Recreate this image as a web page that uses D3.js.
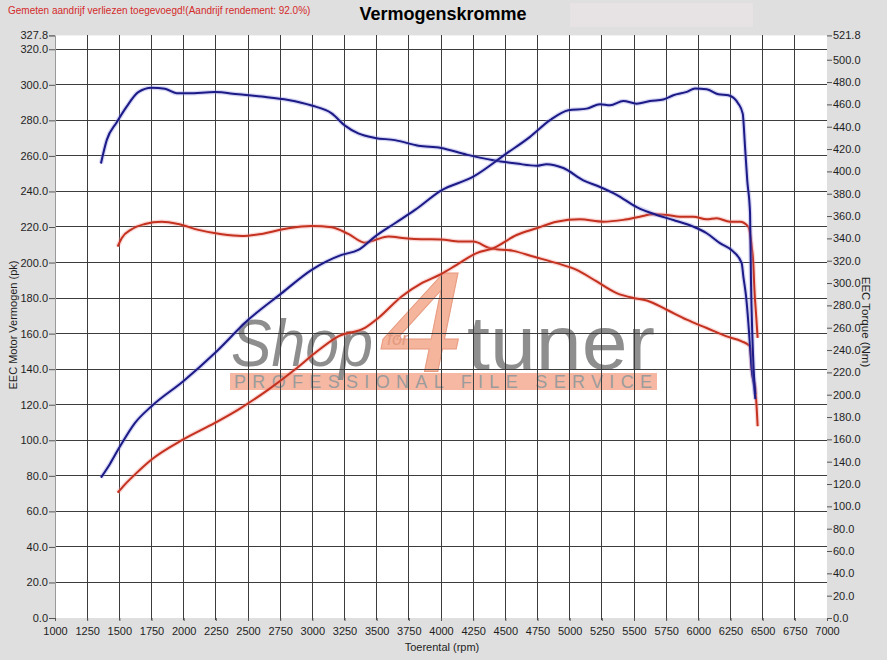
<!DOCTYPE html>
<html>
<head>
<meta charset="utf-8">
<script src="https://cdn.jsdelivr.net/npm/d3@7"></script>
<style>
body { margin: 0; background: #dfdfdf; }
svg { display: block; }
text { font-family: Arial, "Liberation Sans", sans-serif; }
</style>
</head>
<body>
<div id="chart"></div>
<script>
// Chart texts
var title = "Vermogenskromme";
var note = "Gemeten aandrijf verliezen toegevoegd!(Aandrijf rendement: 92.0%)";
var xTitle = "Toerental (rpm)";
var yLeftTitle = "EEC Motor Vermogen (pk)";
var yRightTitle = "EEC Torque (Nm)";

// Axis ticks
var rpmTicks = d3.range(1000, 7001, 250);
var pkTicks = d3.range(0, 321, 20).concat([327.8]);
var nmTicks = d3.range(0, 501, 20).concat([521.8]);

// Blue power (pk)
var bluePowerRpm = [1357, 1427, 1492, 1622, 1751, 1997, 2243, 2502, 2762, 2995, 3228, 3357, 3487, 3642, 3798, 4000, 4251, 4510, 4692, 4847, 4990, 5132, 5236, 5314, 5417, 5521, 5624, 5728, 5806, 5910, 5974, 6065, 6155, 6233, 6311, 6345, 6363, 6380, 6402, 6409, 6420, 6430, 6442];
var bluePower = [79.0, 86.7, 94.9, 109.8, 119.2, 133.2, 149.1, 167.8, 182.8, 195.9, 204.3, 207.1, 214.6, 222.1, 229.6, 240.5, 248.3, 261.4, 270.7, 280.1, 285.7, 286.6, 289.1, 288.5, 290.9, 289.4, 290.9, 291.7, 294.1, 296.0, 297.9, 297.5, 294.7, 294.1, 289.4, 283.8, 265.1, 246.4, 227.7, 190.3, 158.5, 140.0, 126.0];

// Blue torque (Nm)
var blueTorqueRpm = [1357, 1402, 1480, 1557, 1647, 1751, 1855, 1946, 2036, 2243, 2425, 2606, 2813, 2995, 3150, 3254, 3357, 3487, 3642, 3824, 4000, 4200, 4407, 4588, 4744, 4821, 4951, 5106, 5236, 5365, 5521, 5676, 5806, 5961, 6065, 6168, 6272, 6337, 6350, 6371, 6389, 6402, 6415, 6433, 6443];
var blueTorque = [407, 428, 444, 458, 471, 475, 474, 470, 470, 471, 469, 467, 464, 459, 452, 441, 434, 430, 428, 423, 421, 415, 410, 407, 405, 406.5, 403, 392, 386, 379, 368, 361, 356.5, 350.5, 344.6, 335.7, 328.2, 317.8, 305.8, 288, 264, 243, 222.5, 207.6, 196];

// Red power (pk)
var redPowerRpm = [1487, 1544, 1622, 1751, 1997, 2243, 2425, 2658, 2865, 3021, 3202, 3409, 3513, 3694, 3850, 4000, 4122, 4277, 4407, 4588, 4744, 4899, 5080, 5261, 5417, 5546, 5650, 5754, 5857, 5961, 6065, 6143, 6246, 6324, 6388, 6415, 6427, 6436, 6448, 6461];
var redPower = [70.5, 75.2, 80.8, 89.2, 100.5, 109.8, 117.3, 128.5, 139.8, 149.1, 158.5, 163.2, 168.8, 180.9, 188.4, 193.5, 198.7, 205.3, 208.1, 215.5, 219.3, 223.0, 224.3, 223.0, 224.0, 225.8, 227.1, 226.8, 225.8, 225.8, 224.3, 224.9, 223.0, 223.0, 220.2, 209.0, 199.7, 184.7, 171.6, 157.6];

// Red torque (Nm)
var redTorqueRpm = [1487, 1518, 1596, 1699, 1829, 1958, 2114, 2296, 2451, 2606, 2813, 2995, 3150, 3280, 3409, 3487, 3591, 3720, 3850, 4000, 4148, 4251, 4381, 4562, 4717, 4899, 5054, 5210, 5365, 5495, 5599, 5754, 5910, 6065, 6220, 6337, 6402, 6415, 6427, 6441, 6461];
var redTorque = [332.6, 340.2, 348.2, 352.9, 355.0, 352.9, 347.6, 343.7, 342.2, 344.0, 349.1, 351.1, 350.0, 344.0, 336.2, 338.6, 341.6, 340.2, 339.3, 339.0, 337.1, 337.1, 331.2, 328.8, 323.7, 317.8, 311.8, 301.4, 291.0, 286.6, 284.4, 276.1, 267.2, 259.7, 252.2, 247.8, 243.3, 222.5, 213.5, 207.6, 171.8];

var width = 887, height = 660;
var plot = {left: 55, right: 827, top: 35.4, bottom: 618};

var svg = d3.select("#chart")
            .append("svg")
            .attr("width", width)
            .attr("height", height);

svg.append("rect")
   .attr("width", width)
   .attr("height", height)
   .attr("fill", "#dfdfdf");

// Scales
var x = d3.scaleLinear().domain([1000, 7000]).range([plot.left, plot.right]);
var yL = d3.scaleLinear().domain([0, 327.8]).range([plot.bottom, plot.top]);
var yR = d3.scaleLinear().domain([0, 521.8]).range([plot.bottom, plot.top]);

// Header
svg.append("text")
   .attr("x", 8).attr("y", 14)
   .attr("font-size", 10)
   .attr("fill", "#d42a2a")
   .text(note);

svg.append("rect")
   .attr("x", 570).attr("y", 3)
   .attr("width", 183).attr("height", 24)
   .attr("fill", "#e7e3e5");

svg.append("text")
   .attr("x", 443).attr("y", 20)
   .attr("text-anchor", "middle")
   .attr("font-size", 18)
   .attr("font-weight", "bold")
   .attr("fill", "#000")
   .text(title);

// Plot area
svg.append("rect")
   .attr("x", plot.left).attr("y", plot.top)
   .attr("width", plot.right - plot.left)
   .attr("height", plot.bottom - plot.top)
   .attr("fill", "white");

// Watermark (under the grid)
var wm = svg.append("g").attr("class", "watermark");
wm.append("rect")
  .attr("x", 230).attr("y", 373)
  .attr("width", 427).attr("height", 17)
  .attr("fill", "#f6b8a3");
wm.append("text")
  .attr("x", 234).attr("y", 388)
  .attr("font-size", 18)
  .attr("fill", "#9b9b9b")
  .attr("textLength", 418)
  .attr("lengthAdjust", "spacing")
  .text("PROFESSIONAL FILE SERVICE");
wm.append("text")
  .attr("x", 231).attr("y", 366)
  .attr("font-size", 66)
  .attr("font-style", "italic")
  .attr("fill", "#8e8e8e")
  .attr("textLength", 142)
  .attr("lengthAdjust", "spacingAndGlyphs")
  .text("Shop");
wm.append("text")
  .attr("x", 380).attr("y", 371)
  .attr("font-size", 142)
  .attr("font-style", "italic")
  .attr("fill", "#f5b59d")
  .attr("stroke", "#e79b80")
  .attr("stroke-width", 1)
  .attr("textLength", 84)
  .attr("lengthAdjust", "spacingAndGlyphs")
  .text("4");
wm.append("text")
  .attr("x", 387).attr("y", 345)
  .attr("font-size", 18)
  .attr("font-style", "italic")
  .attr("fill", "#e39a80")
  .text("for");
wm.append("text")
  .attr("x", 467).attr("y", 369)
  .attr("font-size", 76)
  .attr("fill", "#8e8e8e")
  .attr("textLength", 188)
  .attr("lengthAdjust", "spacingAndGlyphs")
  .text("tuner");

// Grid
var grid = svg.append("g")
              .attr("stroke", "#3c3c3c")
              .attr("stroke-width", 1)
              .attr("shape-rendering", "crispEdges");

grid.selectAll("line.v")
    .data(rpmTicks.filter(function(d) { return d > 1000 && d < 7000; }))
    .enter().append("line")
    .attr("x1", d => x(d)).attr("x2", d => x(d))
    .attr("y1", plot.top).attr("y2", plot.bottom + 2);

grid.selectAll("line.h")
    .data(pkTicks.filter(function(d) { return d > 0 && d < 321; }))
    .enter().append("line")
    .attr("x1", plot.left).attr("x2", plot.right)
    .attr("y1", d => yL(d)).attr("y2", d => yL(d));

// Axes
var leftAxis = d3.axisLeft(yL).tickValues(pkTicks).tickFormat(d3.format(".1f")).tickSize(6).tickPadding(1);
var rightAxis = d3.axisRight(yR).tickValues(nmTicks).tickFormat(d3.format(".1f")).tickSize(5).tickPadding(1);
var bottomAxis = d3.axisBottom(x).tickValues(rpmTicks).tickFormat(d3.format("d")).tickSize(3).tickPadding(6);

function styleAxis(g) {
    g.selectAll("text").attr("font-size", 11).attr("fill", "#1e1e1e")
     .style("font-family", "Arial, 'Liberation Sans', sans-serif");
    g.selectAll("line").attr("stroke", "#555");
    g.select(".domain").attr("stroke", "#9a9a9a");
}

svg.append("g").attr("transform", "translate(" + plot.left + ",0)").call(leftAxis).call(styleAxis);
svg.append("g").attr("transform", "translate(" + plot.right + ",0)").call(rightAxis).call(styleAxis)
   .select(".domain").remove();
svg.append("g").attr("transform", "translate(0," + plot.bottom + ")").call(bottomAxis).call(styleAxis)
   .select(".domain").remove();

// Axis titles
svg.append("text")
   .attr("transform", "translate(17,325) rotate(-90)")
   .attr("text-anchor", "middle")
   .attr("font-size", 11)
   .attr("fill", "#1e1e1e")
   .text(yLeftTitle);

svg.append("text")
   .attr("transform", "translate(862,322) rotate(90)")
   .attr("text-anchor", "middle")
   .attr("font-size", 11.5)
   .attr("fill", "#1e1e1e")
   .text(yRightTitle);

svg.append("text")
   .attr("x", 442).attr("y", 651)
   .attr("text-anchor", "middle")
   .attr("font-size", 11)
   .attr("fill", "#1e1e1e")
   .text(xTitle);

// Curves
var lineL = d3.line().x(d => x(d[0])).y(d => yL(d[1])).curve(d3.curveMonotoneX);
var lineR = d3.line().x(d => x(d[0])).y(d => yR(d[1])).curve(d3.curveMonotoneX);

var curves = [
    {rpm: redTorqueRpm, val: redTorque, line: lineR, color: "#c4311f", halo: "#f2908a"},
    {rpm: redPowerRpm, val: redPower, line: lineL, color: "#c4311f", halo: "#f2908a"},
    {rpm: blueTorqueRpm, val: blueTorque, line: lineR, color: "#1b1a86", halo: "#8a8ae0"},
    {rpm: bluePowerRpm, val: bluePower, line: lineL, color: "#1b1a86", halo: "#8a8ae0"}
];

var curveG = svg.append("g").attr("fill", "none");
curves.forEach(function(c) {
    var pts = c.rpm.map(function(r, i) { return [r, c.val[i]]; });
    curveG.append("path")
          .attr("d", c.line(pts))
          .attr("stroke", c.halo)
          .attr("stroke-opacity", 0.35)
          .attr("stroke-width", 4.5);
    curveG.append("path")
          .attr("d", c.line(pts))
          .attr("stroke", c.color)
          .attr("stroke-width", 2);
});
</script>
</body>
</html>
